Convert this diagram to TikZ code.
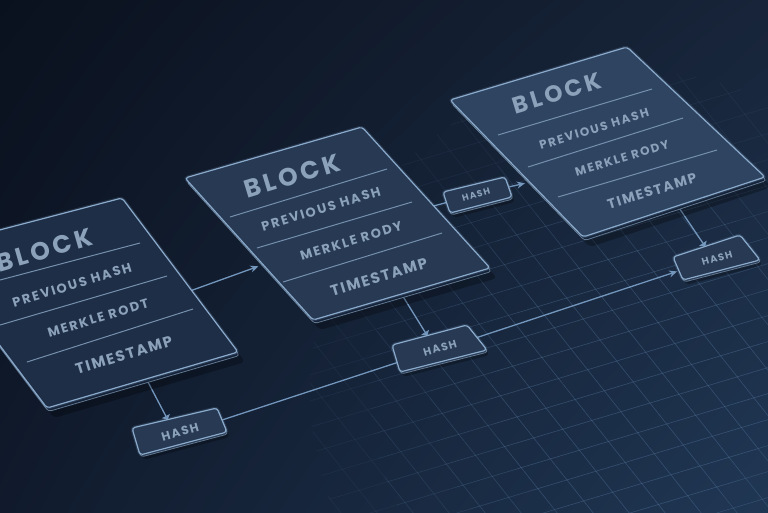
\documentclass[tikz,border=0pt]{standalone}
\usepackage{fontspec}
\setmainfont{Poppins}
\usetikzlibrary{calc,arrows.meta,shadings}
\definecolor{bgTL}{HTML}{0A111E}
\definecolor{bgTR}{HTML}{172439}
\definecolor{bgBL}{HTML}{101A2C}
\definecolor{bgBR}{HTML}{203754}
\definecolor{gridcol}{HTML}{6A90BA}
\definecolor{edgecol}{HTML}{8AAACC}
\definecolor{linecol}{HTML}{7396BC}
\definecolor{txtcol}{HTML}{8CA2BB}
\definecolor{faceA}{HTML}{1E2E46}
\definecolor{faceB}{HTML}{273953}
\definecolor{faceC}{HTML}{2F4461}
\definecolor{slabcol}{HTML}{142238}
\begin{document}
\begin{tikzpicture}[x=1pt,y=-1pt,
  face/.style={draw=edgecol, line width=1.2pt, rounded corners=3pt},
  glow/.style={draw=edgecol, line width=3.5pt, opacity=0.18, rounded corners=3pt},
  slab/.style={fill=slabcol, draw=edgecol!70!black, line width=0.8pt, rounded corners=3pt},
  shadow/.style={fill=black, opacity=0.28, rounded corners=4pt},
  divider/.style={draw=edgecol!85!black, line width=1pt},
  conn/.style={draw=linecol, line width=1.3pt},
  arr/.style={conn, -{Stealth[length=8pt,width=7pt]}},
  tab/.style={conn, -{Triangle[length=4pt,width=9pt]}},
  gridline/.style={draw=gridcol, line width=0.7pt, opacity=0.085},
  btitle/.style={text=txtcol, inner sep=0pt, font=\fontsize{25}{25}\selectfont\bfseries\addfontfeature{LetterSpace=14}},
  bfield/.style={text=txtcol, inner sep=0pt, font=\fontsize{13}{14}\selectfont\bfseries\addfontfeature{LetterSpace=14}},
  bstamp/.style={text=txtcol, inner sep=0pt, font=\fontsize{15}{16}\selectfont\bfseries\addfontfeature{LetterSpace=11}},
  hlabel/.style={text=txtcol, inner sep=0pt, font=\fontsize{12}{12}\selectfont\bfseries\addfontfeature{LetterSpace=12}},
]
\useasboundingbox (0,0) rectangle (768,512);
\clip (0,0) rectangle (768,512);
% background
\shade[upper left=bgTL, upper right=bgTR, lower left=bgBL, lower right=bgBR] (0,0) rectangle (768,512);

% grid, fading out from the lower right
\foreach \r in {140,200,260,320} {
  \begin{scope}
    \clip (630,390) circle (\r);
    \foreach \i in {-14,...,14} {
      \draw[gridline] ($(600,340)+\i*(0,26)$) ++(-500,150) -- ++(1000,-300);
      \draw[gridline] ($(600,340)+\i*(36,0)$) ++(-230,-290) -- ++(460,580);
    }
  \end{scope}
}

% block corners
\coordinate (b1tl) at (-73,249); \coordinate (b1tr) at (122,198);
\coordinate (b1br) at (238,352); \coordinate (b1bl) at (47,408);
\coordinate (b2tl) at (185,178); \coordinate (b2tr) at (362,127);
\coordinate (b2br) at (490,268); \coordinate (b2bl) at (313,320);
\coordinate (b3tl) at (450,100); \coordinate (b3tr) at (627,47);
\coordinate (b3br) at (765,177); \coordinate (b3bl) at (583,237);
% hash corners
\coordinate (h1tl) at (132,428); \coordinate (h1tr) at (217,408);
\coordinate (h1br) at (227,432); \coordinate (h1bl) at (140,455);
\coordinate (h2tl) at (392,345); \coordinate (h2tr) at (467,325);
\coordinate (h2br) at (487,350); \coordinate (h2bl) at (400,372);
\coordinate (h3tl) at (443,192); \coordinate (h3tr) at (505,177);
\coordinate (h3br) at (512,197); \coordinate (h3bl) at (450,213);
\coordinate (h4tl) at (673,257); \coordinate (h4tr) at (740,235);
\coordinate (h4br) at (760,260); \coordinate (h4bl) at (683,280);

% connector ends
\coordinate (b1out) at ($(b1tr)!0.6!(b1br)$);
\coordinate (b2in)  at ($(b2tl)!0.61!(b2bl)$);
\coordinate (b2out) at ($(b2tr)!0.56!(b2br)$);
\coordinate (h3in)  at ($(h3tl)!0.5!(h3bl)$);
\coordinate (h3out) at ($(h3tr)!0.5!(h3br)$);
\coordinate (b3in)  at ($(b3tl)!0.6!(b3bl)$);
\coordinate (b1down) at ($(b1bl)!0.52!(b1br)$);
\coordinate (h1top) at ($(h1tl)!0.42!(h1tr)$);
\coordinate (h1out) at ($(h1tr)!0.5!(h1br)$);
\coordinate (h2in)  at ($(h2tl)!0.65!(h2bl)$);
\coordinate (b2down) at ($(b2bl)!0.5!(b2br)$);
\coordinate (h2top) at ($(h2tl)!0.47!(h2tr)$);
\coordinate (h2out) at ($(h2tr)!0.5!(h2br)$);
\coordinate (h4in)  at ($(h4tl)!0.6!(h4bl)$);
\coordinate (b3down) at ($(b3bl)!0.52!(b3br)$);
\coordinate (h4top) at ($(h4tl)!0.48!(h4tr)$);

% connectors
\draw[arr, shorten >=5pt] (b1out) -- (b2in);
\draw[conn] (b2out) -- (h3in);
\draw[arr, shorten >=5pt] (h3out) -- (b3in);
\draw[tab] (b1down) -- (h1top);
\draw[conn] (h1out) -- (h2in);
\draw[tab] (b2down) -- (h2top);
\draw[arr, shorten >=2pt] (h2out) -- (h4in);
\draw[tab] (b3down) -- (h4top);

% blocks
\foreach \b/\f in {b1/faceA, b2/faceB, b3/faceC} {
  \fill[shadow] ($(\b tl)+(7,10)$) -- ($(\b tr)+(7,10)$) -- ($(\b br)+(7,10)$) -- ($(\b bl)+(7,10)$) -- cycle;
  \path[slab] ($(\b tl)+(1.5,3.5)$) -- ($(\b tr)+(1.5,3.5)$) -- ($(\b br)+(1.5,3.5)$) -- ($(\b bl)+(1.5,3.5)$) -- cycle;
  \path[glow] (\b tl) -- (\b tr) -- (\b br) -- (\b bl) -- cycle;
  \path[face, fill=\f] (\b tl) -- (\b tr) -- (\b br) -- (\b bl) -- cycle;
}
% hash boxes
\foreach \h in {h1,h2,h3,h4} {
  \fill[shadow] ($(\h tl)+(3,5)$) -- ($(\h tr)+(3,5)$) -- ($(\h br)+(3,5)$) -- ($(\h bl)+(3,5)$) -- cycle;
  \path[slab] ($(\h tl)+(1,2)$) -- ($(\h tr)+(1,2)$) -- ($(\h br)+(1,2)$) -- ($(\h bl)+(1,2)$) -- cycle;
  \path[glow] (\h tl) -- (\h tr) -- (\h br) -- (\h bl) -- cycle;
  \path[face, fill=faceB] (\h tl) -- (\h tr) -- (\h br) -- (\h bl) -- cycle;
}

% dividers
\draw[divider] (0,280) -- (140,243);
\draw[divider] (0,325) -- (167,276);
\draw[divider] (27,362) -- (193,309);
\draw[divider] (230,217) -- (387,169);
\draw[divider] (257,248) -- (412,202);
\draw[divider] (283,282) -- (442,233);
\draw[divider] (498,135) -- (652,89);
\draw[divider] (528,167) -- (683,118);
\draw[divider] (558,197) -- (717,150);

% block texts
\node[btitle, rotate=16] (b1title) at (44,250) {BLOCK};
\node[bfield, rotate=17] (b1prev) at (72,285) {PREVIOUS HASH};
\node[bfield, rotate=17] (b1merk) at (98,318) {MERKLE RODT};
\node[bstamp, rotate=17] (b1time) at (124,355) {TIMESTAMP};

\node[btitle, rotate=17] (b2title) at (292,176) {BLOCK};
\node[bfield, rotate=17] (b2prev) at (321,209) {PREVIOUS HASH};
\node[bfield, rotate=17] (b2merk) at (351,241) {MERKLE RODY};
\node[bstamp, rotate=17] (b2time) at (379,277) {TIMESTAMP};

\node[btitle, rotate=17, scale=0.93] (b3title) at (557,93) {BLOCK};
\node[bfield, rotate=17, scale=0.92] (b3prev) at (594,129) {PREVIOUS HASH};
\node[bfield, rotate=17, scale=0.92] (b3merk) at (622,158) {MERKLE RODY};
\node[bstamp, rotate=17, scale=0.92] (b3time) at (652,191) {TIMESTAMP};

% hash labels
\node[hlabel, rotate=16] (h1lab) at (180,432) {HASH};
\node[hlabel, rotate=16, scale=0.9] (h2lab) at (440,348) {HASH};
\node[hlabel, rotate=16, scale=0.75] (h3lab) at (476,195) {HASH};
\node[hlabel, rotate=16, scale=0.82] (h4lab) at (717,258) {HASH};
\end{tikzpicture}
\end{document}
